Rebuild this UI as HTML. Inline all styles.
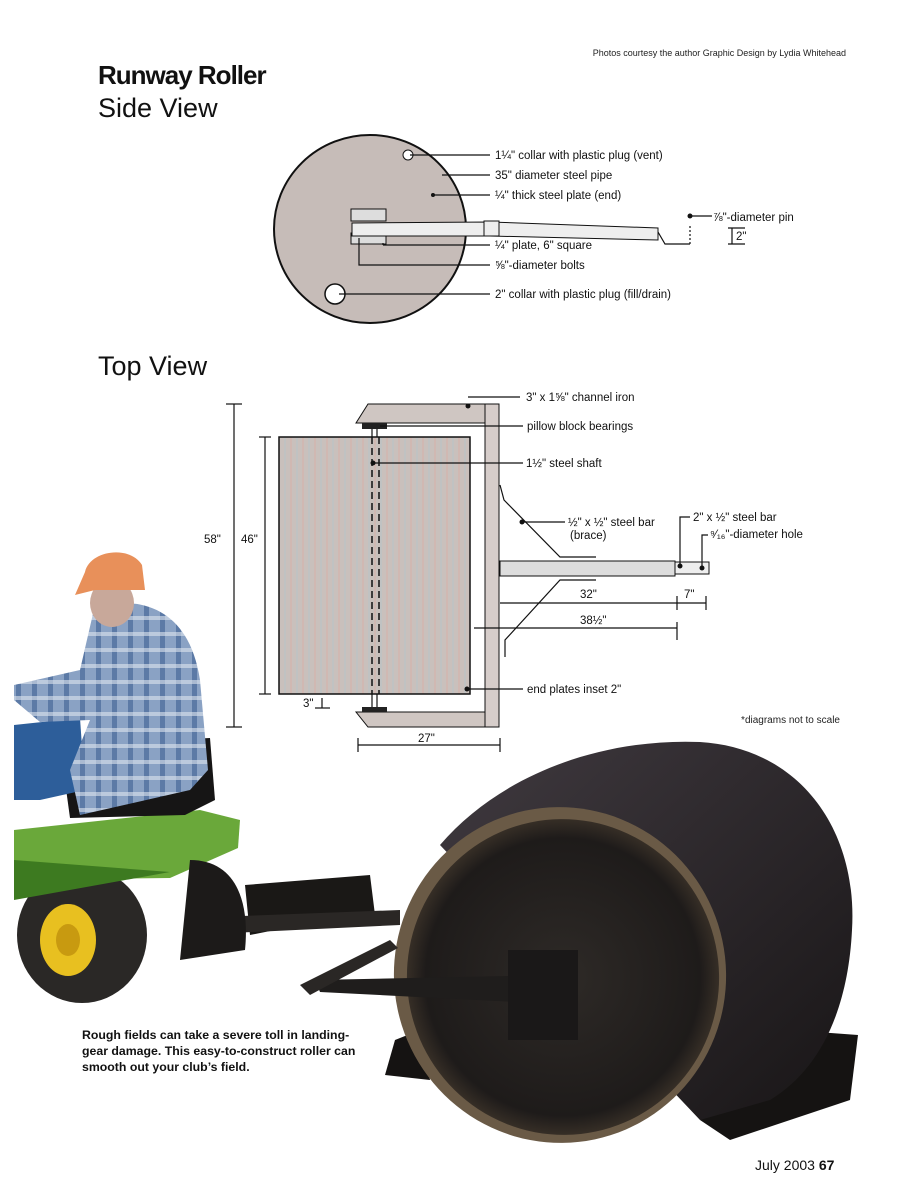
<!DOCTYPE html>
<html><head><meta charset="utf-8"><style>
html,body{margin:0;padding:0;background:#fff}
body{width:916px;height:1200px;position:relative;overflow:hidden;font-family:"Liberation Sans",sans-serif}
.t{position:absolute;white-space:nowrap}
</style></head><body>
<svg width="916" height="1200" style="position:absolute;left:0;top:0" font-family="Liberation Sans, sans-serif">
<defs>
<pattern id="vs" width="12" height="10" patternUnits="userSpaceOnUse"><rect width="12" height="10" fill="#c9c0bc"/><line x1="3" y1="0" x2="3" y2="10" stroke="#d8b0a8" stroke-width="1"/><line x1="9" y1="0" x2="9" y2="10" stroke="#b8c4c8" stroke-width="1"/></pattern>
<radialGradient id="face" cx="50%" cy="50%" r="55%"><stop offset="0" stop-color="#2e2a27"/><stop offset="0.8" stop-color="#1e1b1a"/><stop offset="1" stop-color="#4a3e30"/></radialGradient>
<linearGradient id="body" x1="0" y1="0" x2="1" y2="1"><stop offset="0" stop-color="#403a40"/><stop offset="1" stop-color="#181516"/></linearGradient>
<pattern id="plaid" width="16" height="16" patternUnits="userSpaceOnUse"><rect width="16" height="16" fill="#8aa2c4"/><rect x="0" y="0" width="5" height="16" fill="#3e5f92" opacity="0.6"/><rect x="0" y="8" width="16" height="4" fill="#dde4ee" opacity="0.6"/></pattern>
</defs>

<!-- header -->
<text x="846" y="56" font-size="9" text-anchor="end" fill="#222">Photos courtesy the author  Graphic Design by Lydia Whitehead</text>
<text x="98" y="84" font-size="26" font-weight="bold" fill="#111" letter-spacing="-1">Runway Roller</text>
<text x="98" y="117" font-size="27" fill="#111">Side View</text>
<text x="98" y="375" font-size="27" fill="#111">Top View</text>

<!-- side view -->
<ellipse cx="370" cy="229" rx="96" ry="94" fill="#c6bcb8" stroke="#111" stroke-width="2"/>
<circle cx="408" cy="155" r="5" fill="#fff" stroke="#111"/>
<circle cx="335" cy="294" r="10" fill="#fff" stroke="#111" stroke-width="1.5"/>
<rect x="351" y="209" width="35" height="12" fill="#ddd" stroke="#111"/>
<rect x="351" y="233" width="35" height="11" fill="#ddd" stroke="#111"/>
<polygon points="352,223 490,222 658,228 658,240 490,236 352,236" fill="#eee" stroke="#111"/>
<rect x="484" y="221" width="15" height="15" fill="#eee" stroke="#111"/>
<g stroke="#111" stroke-width="1.2" fill="none">
<line x1="410" y1="155" x2="490" y2="155"/>
<line x1="442" y1="175" x2="490" y2="175"/>
<line x1="432" y1="195" x2="490" y2="195"/>
<line x1="383" y1="243" x2="383" y2="245"/><line x1="383" y1="245" x2="490" y2="245"/>
<polyline points="359,238 359,265 490,265"/>
<line x1="339" y1="294" x2="490" y2="294"/>
<line x1="690" y1="216" x2="712" y2="216"/>
<polyline points="658,232 665,244 690,244"/>
<line x1="690" y1="226" x2="690" y2="246" stroke-dasharray="2,2"/>
<line x1="728" y1="228" x2="745" y2="228"/><line x1="728" y1="244" x2="745" y2="244"/><line x1="732" y1="228" x2="732" y2="244"/>
</g>
<g font-size="11.5" fill="#111">
<text x="495" y="159">1¼" collar with plastic plug (vent)</text>
<text x="495" y="179">35" diameter steel pipe</text>
<text x="495" y="199">¼" thick steel plate (end)</text>
<text x="495" y="249">¼" plate, 6" square</text>
<text x="495" y="269">⅝"-diameter bolts</text>
<text x="495" y="298">2" collar with plastic plug (fill/drain)</text>
<text x="713" y="221">⅞"-diameter pin</text>
<text x="736" y="240">2"</text>
</g>

<!-- top view -->
<rect x="279" y="437" width="191" height="257" fill="url(#vs)" stroke="#111" stroke-width="1.5"/>
<polygon points="368,404 485,404 485,423 356,423" fill="#cfc6c2" stroke="#111"/>
<polygon points="356,712 485,712 485,727 368,727" fill="#cfc6c2" stroke="#111"/>
<rect x="485" y="404" width="14" height="323" fill="#d6cdca" stroke="#111"/>
<rect x="500" y="561" width="175" height="15" fill="#ddd" stroke="#111"/>
<rect x="675" y="562" width="34" height="12" fill="#eee" stroke="#111"/>
<rect x="362" y="423" width="25" height="6" fill="#222"/>
<rect x="362" y="707" width="25" height="5" fill="#222"/>
<g stroke="#111" stroke-width="1.2" fill="none">
<line x1="372" y1="429" x2="372" y2="437"/><line x1="377" y1="429" x2="377" y2="437"/>
<line x1="372" y1="694" x2="372" y2="707"/><line x1="377" y1="694" x2="377" y2="707"/>
<line x1="372" y1="437" x2="372" y2="694" stroke-dasharray="7,4" stroke-width="1.5"/>
<line x1="379" y1="437" x2="379" y2="694" stroke-dasharray="7,4" stroke-width="1.5"/>
<polyline points="500,485 504,500 560,557 596,557"/>
<polyline points="596,580 560,580 505,640 505,657"/>
<line x1="468" y1="397" x2="520" y2="397"/>
<line x1="380" y1="426" x2="523" y2="426"/>
<line x1="374" y1="463" x2="523" y2="463"/>
<line x1="522" y1="522" x2="565" y2="522"/>
<polyline points="680,565 680,517 690,517"/>
<polyline points="702,567 702,535 708,535"/>
<line x1="467" y1="689" x2="523" y2="689"/>
<line x1="234" y1="404" x2="234" y2="727"/><line x1="226" y1="404" x2="242" y2="404"/><line x1="226" y1="727" x2="242" y2="727"/>
<line x1="265" y1="437" x2="265" y2="694"/><line x1="259" y1="437" x2="271" y2="437"/><line x1="259" y1="694" x2="271" y2="694"/>
<line x1="500" y1="603" x2="677" y2="603"/><line x1="677" y1="596" x2="677" y2="610"/><line x1="706" y1="596" x2="706" y2="610"/><line x1="677" y1="603" x2="706" y2="603"/>
<line x1="474" y1="628" x2="677" y2="628"/><line x1="677" y1="622" x2="677" y2="640"/>
<line x1="358" y1="745" x2="500" y2="745"/><line x1="358" y1="738" x2="358" y2="752"/><line x1="500" y1="738" x2="500" y2="752"/>
<line x1="322" y1="698" x2="322" y2="708"/><line x1="315" y1="708" x2="330" y2="708"/>
</g>
<g fill="#111"><circle cx="468" cy="406" r="2.5"/><circle cx="373" cy="463" r="2.5"/><circle cx="522" cy="522" r="2.5"/><circle cx="680" cy="566" r="2.5"/><circle cx="702" cy="568" r="2.5"/><circle cx="467" cy="689" r="2.5"/><circle cx="690" cy="216" r="2.5"/><circle cx="433" cy="195" r="2"/></g>
<g font-size="11.5" fill="#111">
<text x="526" y="401">3" x 1⅝" channel iron</text>
<text x="527" y="430">pillow block bearings</text>
<text x="526" y="467">1½" steel shaft</text>
<text x="568" y="526">½" x ½" steel bar</text>
<text x="570" y="539">(brace)</text>
<text x="693" y="521">2" x ½" steel bar</text>
<text x="710" y="538">⁹⁄₁₆"-diameter hole</text>
<text x="580" y="598">32"</text>
<text x="684" y="598">7"</text>
<text x="580" y="624">38½"</text>
<text x="527" y="693">end plates inset 2"</text>
<text x="204" y="543">58"</text>
<text x="241" y="543">46"</text>
<text x="303" y="707">3"</text>
<text x="418" y="742">27"</text>
</g>
<text x="840" y="723" font-size="10" text-anchor="end" fill="#222">*diagrams not to scale</text>

<!-- roller shadows -->
<polygon points="790,1030 858,1035 850,1100 730,1140 700,1120" fill="#151312"/>
<polygon points="395,1040 420,1030 430,1080 385,1075" fill="#151312"/>
<!-- roller body -->
<path d="M440,845 C500,775 600,738 700,742 C800,748 858,830 852,930 C848,1010 820,1070 770,1100 L700,1120 Z" fill="url(#body)"/>
<ellipse cx="560" cy="975" rx="166" ry="168" transform="rotate(-12 560 975)" fill="#6a5a46"/>
<ellipse cx="563" cy="977" rx="156" ry="158" transform="rotate(-12 563 977)" fill="url(#face)"/>
<!-- tractor ground shadow -->
<polygon points="245,885 370,875 375,915 300,925 250,935" fill="#1a1816"/>
<!-- hitch bars -->
<polygon points="190,918 400,910 400,925 190,935" fill="#2a2725"/>
<polygon points="315,980 560,975 575,990 575,1005 320,992" fill="#1f1d1c"/>
<polygon points="508,950 578,950 578,1040 508,1040" fill="#1a1818"/>
<polygon points="300,985 390,940 398,948 310,995" fill="#2a2725"/>
<!-- tractor -->
<ellipse cx="82" cy="935" rx="65" ry="68" fill="#2a2826"/>
<ellipse cx="68" cy="940" rx="28" ry="36" fill="#e8c020"/>
<ellipse cx="68" cy="940" rx="12" ry="16" fill="#c89a10"/>
<path d="M14,830 L200,810 L240,820 L238,848 L170,878 L14,880 Z" fill="#6aa83a"/>
<path d="M14,860 L170,872 L14,900 Z" fill="#3d7a20"/>
<path d="M190,860 C235,860 250,900 245,950 L180,960 Z" fill="#1c1a19"/>
<path d="M60,745 L210,738 L215,800 L185,815 L70,818 Z" fill="#161515"/>
<path d="M110,760 L130,758 L120,800 L108,805 Z" fill="#d8c030"/>
<!-- man -->
<path d="M14,725 L80,718 L85,790 L40,800 L14,800 Z" fill="#2d5e9a"/>
<path d="M95,605 C150,595 190,615 200,680 L208,770 L190,790 L80,815 L70,770 L90,720 L40,722 L14,700 L14,685 L80,670 Z" fill="url(#plaid)"/>
<ellipse cx="112" cy="603" rx="22" ry="24" fill="#c8a89a"/>
<path d="M85,572 C90,550 130,545 142,565 L145,590 L95,590 L75,595 Z" fill="#e8905a"/>
</svg>

<div class="t" style="left:82px;top:1027px;font-size:12.3px;font-weight:bold;line-height:16px;color:#111;white-space:normal;width:280px">Rough fields can take a severe toll in landing-gear damage. This easy-to-construct roller can smooth out your club’s field.</div>
<div class="t" style="left:755px;top:1157px;font-size:14px;color:#111">July 2003 <b>67</b></div>
</body></html>
